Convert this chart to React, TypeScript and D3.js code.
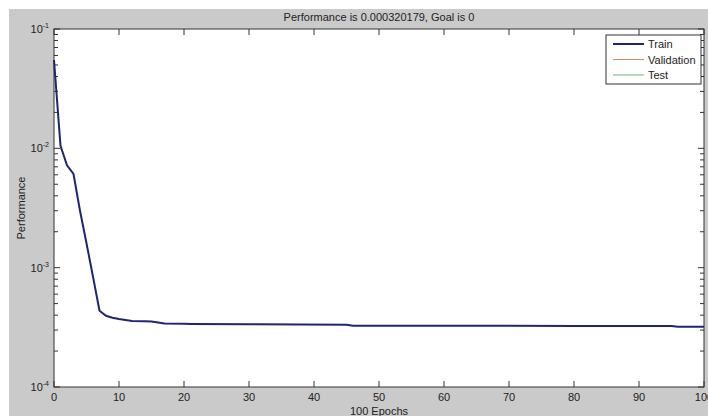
import React, { useEffect, useRef } from 'react'
import * as d3 from 'd3'

// training record (epoch, performance)
const epochs = [0, 1, 2, 3, 4, 5, 6, 7, 8, 9, 10, 11, 12, 14, 15, 16, 17, 20, 21, 30, 45, 46, 60, 80, 95, 96, 100]
const trainPerf = [
  0.055, 0.0105, 0.0072, 0.0061, 0.003, 0.0016, 0.00084, 0.000435, 0.000395, 0.00038,
  0.000371, 0.000364, 0.000357, 0.000355, 0.000354, 0.000347, 0.000341, 0.000339, 0.000338,
  0.000335, 0.000333, 0.000326, 0.000326, 0.000325, 0.000324, 0.00032, 0.00032,
]
const xTicks = [0, 10, 20, 30, 40, 50, 60, 70, 80, 90, 100]
const yDecades = [-4, -3, -2, -1]
const legendItems = [
  { label: 'Train', color: '#1f2574', width: 2 },
  { label: 'Validation', color: '#d9826f', width: 1 },
  { label: 'Test', color: '#6fb17c', width: 1 },
]
const title = 'Performance is 0.000320179, Goal is 0'

export default function App() {
  const svgRef = useRef<SVGSVGElement>(null)

  useEffect(() => {
    const svg = d3.select(svgRef.current)
    svg.selectAll('*').remove()

    const width = 708
    const height = 416
    const margin = { top: 29, right: 4, bottom: 29, left: 54 }
    const innerW = width - margin.left - margin.right
    const innerH = height - margin.top - margin.bottom
    const font = '"Liberation Sans", Arial, sans-serif'
    const axisColor = '#333'

    svg.attr('viewBox', `0 0 ${width} ${height}`)

    // figure background
    svg.append('rect').attr('width', width).attr('height', height).attr('fill', '#fff')
    svg.append('rect').attr('x', 9).attr('y', 9).attr('width', width - 9).attr('height', height - 9).attr('fill', '#cacaca')

    const g = svg.append('g').attr('transform', `translate(${margin.left},${margin.top})`)

    const x = d3.scaleLinear().domain([0, 100]).range([0, innerW])
    const y = d3.scaleLog().domain([1e-4, 1e-1]).range([innerH, 0])

    g.append('rect').attr('width', innerW).attr('height', innerH).attr('fill', '#fff')

    // x ticks (inward, bottom and top)
    xTicks.forEach(t => {
      const px = x(t)
      g.append('line').attr('x1', px).attr('x2', px).attr('y1', innerH).attr('y2', innerH - 6)
        .attr('stroke', axisColor)
      g.append('line').attr('x1', px).attr('x2', px).attr('y1', 0).attr('y2', 6)
        .attr('stroke', axisColor)
      g.append('text')
        .attr('x', px).attr('y', innerH + 14)
        .attr('text-anchor', 'middle')
        .attr('font-family', font).attr('font-size', 11).attr('fill', '#222')
        .text(t)
    })

    // y ticks: minor at 2..9 per decade, major at powers of ten
    y.ticks().forEach(v => {
      const py = y(v)
      const major = Math.abs(Math.log10(v) - Math.round(Math.log10(v))) < 1e-9
      const len = major ? 6 : 4
      g.append('line').attr('x1', 0).attr('x2', len).attr('y1', py).attr('y2', py).attr('stroke', axisColor)
      g.append('line').attr('x1', innerW).attr('x2', innerW - len).attr('y1', py).attr('y2', py).attr('stroke', axisColor)
    })

    yDecades.forEach(d => {
      const py = y(Math.pow(10, d))
      const t = g.append('text')
        .attr('x', -5).attr('y', py + 4)
        .attr('text-anchor', 'end')
        .attr('font-family', font).attr('font-size', 11).attr('fill', '#222')
      t.append('tspan').text('10')
      t.append('tspan').attr('font-size', 7).attr('dy', -5).text(String(d))
    })

    // plot box
    g.append('rect').attr('width', innerW).attr('height', innerH)
      .attr('fill', 'none').attr('stroke', axisColor).attr('stroke-width', 1)

    // train curve
    const line = d3.line<number>()
      .x((_, i) => x(epochs[i]))
      .y(d => y(d))
    g.append('path')
      .datum(trainPerf)
      .attr('d', line)
      .attr('fill', 'none')
      .attr('stroke', legendItems[0].color)
      .attr('stroke-width', 2)

    // legend
    const lg = g.append('g').attr('transform', `translate(${innerW - 98},6)`)
    lg.append('rect').attr('width', 95).attr('height', 49)
      .attr('fill', '#fff').attr('stroke', axisColor)
    legendItems.forEach((item, i) => {
      const ly = 9 + i * 15.5
      lg.append('line').attr('x1', 7).attr('x2', 38).attr('y1', ly).attr('y2', ly)
        .attr('stroke', item.color).attr('stroke-width', item.width)
      lg.append('text').attr('x', 42).attr('y', ly + 4)
        .attr('font-family', font).attr('font-size', 11).attr('fill', '#222')
        .text(item.label)
    })

    // title and axis labels
    svg.append('text')
      .attr('x', margin.left + innerW / 2).attr('y', 21)
      .attr('text-anchor', 'middle')
      .attr('font-family', font).attr('font-size', 11).attr('fill', '#222')
      .text(title)
    svg.append('text')
      .attr('x', margin.left + innerW / 2).attr('y', 415)
      .attr('text-anchor', 'middle')
      .attr('font-family', font).attr('font-size', 11).attr('fill', '#222')
      .text('100 Epochs')
    svg.append('text')
      .attr('transform', `translate(25,${margin.top + innerH / 2}) rotate(-90)`)
      .attr('text-anchor', 'middle')
      .attr('font-family', font).attr('font-size', 11).attr('fill', '#222')
      .text('Performance')
  }, [])

  return (
    <svg
      ref={svgRef}
      width={708}
      height={416}
      style={{ position: 'absolute', left: 0, top: 0, display: 'block' }}
    />
  )
}
